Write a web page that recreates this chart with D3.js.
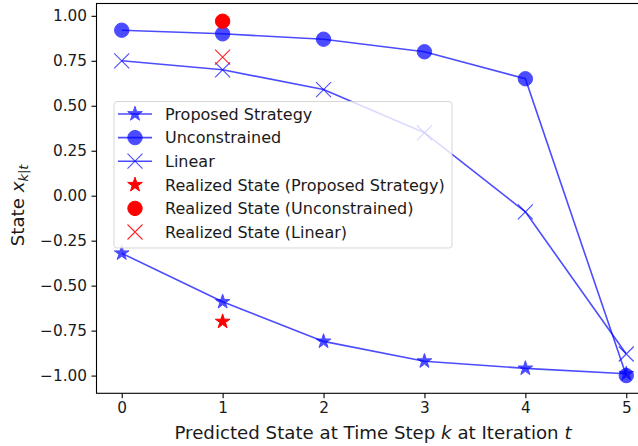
<!DOCTYPE html>
<html>
<head>
<meta charset="utf-8">
<script src="https://cdn.jsdelivr.net/npm/d3@7"></script>
<style>
  html, body { margin: 0; padding: 0; background: #fff; }
  svg { display: block; font-family: "DejaVu Sans", sans-serif; }
</style>
</head>
<body>
<svg id="chart" width="638" height="446"></svg>
<script>
// Predicted state trajectories over the horizon k = 0..5
const steps = [0, 1, 2, 3, 4, 5];
const proposed = [-0.32, -0.59, -0.81, -0.92, -0.96, -0.99];
const unconstrained = [0.92, 0.90, 0.87, 0.80, 0.65, -1.00];
const linear = [0.75, 0.70, 0.59, 0.35, -0.09, -0.88];

// Realized states after applying the first input (at k = 1)
const realizedStep = 1;
const realizedProposed = -0.70;
const realizedUnconstrained = 0.97;
const realizedLinear = 0.77;

const xTickValues = [0, 1, 2, 3, 4, 5];
const yTickValues = [-1.00, -0.75, -0.50, -0.25, 0.00, 0.25, 0.50, 0.75, 1.00];

const legendLabels = [
  "Proposed Strategy",
  "Unconstrained",
  "Linear",
  "Realized State (Proposed Strategy)",
  "Realized State (Unconstrained)",
  "Realized State (Linear)"
];

const svg = d3.select("#chart");
const plot = { left: 96.5, right: 651.5, top: 3.5, bottom: 393.3 };

const x = d3.scaleLinear().domain([-0.25, 5.25]).range([plot.left, plot.right]);

const allY = proposed.concat(unconstrained, linear, [realizedProposed, realizedUnconstrained, realizedLinear]);
const yMin = d3.min(allY), yMax = d3.max(allY);
const pad = (yMax - yMin) * 0.05;
const y = d3.scaleLinear().domain([yMin - pad, yMax + pad]).range([plot.bottom, plot.top]);

const BLUE = "#0000ff";
const RED = "#ff0000";
const ALPHA = 0.7;
const TEXT = "#1a1a1a";

const starPath = d3.symbol().type(d3.symbolStar).size(66)();
const circleR = 7.2;
const crossHalf = 7.5;

function drawMarker(g, kind, cx, cy, color, opacity) {
  if (kind === "star") {
    g.append("path").attr("d", starPath)
      .attr("transform", `translate(${cx},${cy})`)
      .attr("fill", color).attr("stroke", color).attr("stroke-width", 1)
      .attr("stroke-linejoin", "miter")
      .attr("opacity", opacity);
  } else if (kind === "circle") {
    g.append("circle").attr("cx", cx).attr("cy", cy).attr("r", circleR)
      .attr("fill", color).attr("stroke", color).attr("stroke-width", 1)
      .attr("opacity", opacity);
  } else {
    g.append("path")
      .attr("d", `M${cx - crossHalf},${cy - crossHalf}L${cx + crossHalf},${cy + crossHalf}M${cx - crossHalf},${cy + crossHalf}L${cx + crossHalf},${cy - crossHalf}`)
      .attr("stroke", color).attr("stroke-width", 1.1).attr("fill", "none")
      .attr("opacity", opacity);
  }
}

const line = d3.line().x((d, i) => x(steps[i])).y(d => y(d));

const series = [
  { values: proposed, marker: "star" },
  { values: unconstrained, marker: "circle" },
  { values: linear, marker: "cross" }
];

const dataG = svg.append("g");
series.forEach(s => {
  const g = dataG.append("g");
  g.append("path").attr("d", line(s.values))
    .attr("fill", "none").attr("stroke", BLUE).attr("stroke-width", 1.6)
    .attr("opacity", ALPHA);
  s.values.forEach((v, i) => drawMarker(g, s.marker, x(steps[i]), y(v), BLUE, ALPHA));
});

// Realized states
drawMarker(dataG, "star", x(realizedStep), y(realizedProposed), RED, 1);
drawMarker(dataG, "circle", x(realizedStep), y(realizedUnconstrained), RED, 1);
drawMarker(dataG, "cross", x(realizedStep), y(realizedLinear), RED, 0.85);

// Axes frame
svg.append("rect")
  .attr("x", plot.left).attr("y", plot.top)
  .attr("width", plot.right - plot.left).attr("height", plot.bottom - plot.top)
  .attr("fill", "none").attr("stroke", "#000").attr("stroke-width", 1.1);

const fmtY = v => d3.format(".2f")(v).replace("-", "\u2212");

const xAxis = d3.axisBottom(x).tickValues(xTickValues).tickFormat(d3.format("d"))
  .tickSizeInner(5).tickSizeOuter(0).tickPadding(4);
const yAxis = d3.axisLeft(y).tickValues(yTickValues).tickFormat(fmtY)
  .tickSizeInner(5).tickSizeOuter(0).tickPadding(4.5);

const gx = svg.append("g").attr("transform", `translate(0,${plot.bottom})`).call(xAxis);
const gy = svg.append("g").attr("transform", `translate(${plot.left},0)`).call(yAxis);
[gx, gy].forEach(g => {
  g.select(".domain").remove();
  g.selectAll(".tick line").attr("stroke", "#000").attr("stroke-width", 1.1);
  g.selectAll(".tick text").attr("fill", TEXT).attr("font-size", 15.3)
    .attr("font-family", "DejaVu Sans, sans-serif");
});

// Axis titles
svg.append("text")
  .attr("x", (plot.left + plot.right) / 2 - 1).attr("y", 438.5)
  .attr("text-anchor", "middle").attr("font-size", 18.2).attr("fill", TEXT)
  .call(t => {
    t.append("tspan").text("Predicted State at Time Step ");
    t.append("tspan").attr("font-style", "italic").text("k");
    t.append("tspan").text(" at Iteration ");
    t.append("tspan").attr("font-style", "italic").text("t");
  });

svg.append("text")
  .attr("transform", `translate(24,${(plot.top + plot.bottom) / 2 + 7}) rotate(-90)`)
  .attr("text-anchor", "middle").attr("font-size", 18.2).attr("fill", TEXT)
  .call(t => {
    t.append("tspan").text("State ");
    t.append("tspan").attr("font-style", "italic").text("x");
    t.append("tspan").attr("font-size", 13).attr("dy", 4).attr("font-style", "italic").text("k");
    t.append("tspan").attr("font-size", 13).text("|");
    t.append("tspan").attr("font-size", 13).attr("font-style", "italic").text("t");
  });

// Legend
const leg = { x: 114, y: 101.5, w: 338, h: 146.5, row: 23.6 };
const legG = svg.append("g");
legG.append("rect")
  .attr("x", leg.x).attr("y", leg.y).attr("width", leg.w).attr("height", leg.h)
  .attr("rx", 3).attr("fill", "#fff").attr("fill-opacity", 0.8)
  .attr("stroke", "#cccccc").attr("stroke-opacity", 0.8).attr("stroke-width", 1);

const legendItems = [
  { marker: "star", color: BLUE, alpha: ALPHA, line: true },
  { marker: "circle", color: BLUE, alpha: ALPHA, line: true },
  { marker: "cross", color: BLUE, alpha: ALPHA, line: true },
  { marker: "star", color: RED, alpha: 1, line: false },
  { marker: "circle", color: RED, alpha: 1, line: false },
  { marker: "cross", color: RED, alpha: 0.85, line: false }
];

legendItems.forEach((it, i) => {
  const cy = leg.y + 12.5 + i * leg.row;
  const hx = 135;
  if (it.line) {
    legG.append("line").attr("x1", 118).attr("x2", 152).attr("y1", cy).attr("y2", cy)
      .attr("stroke", it.color).attr("stroke-width", 1.6).attr("opacity", it.alpha);
  }
  drawMarker(legG, it.marker, hx, cy, it.color, it.alpha);
  legG.append("text").attr("x", 165).attr("y", cy).attr("dy", "0.36em")
    .attr("font-size", 16).attr("fill", TEXT).text(legendLabels[i]);
});
</script>
</body>
</html>
